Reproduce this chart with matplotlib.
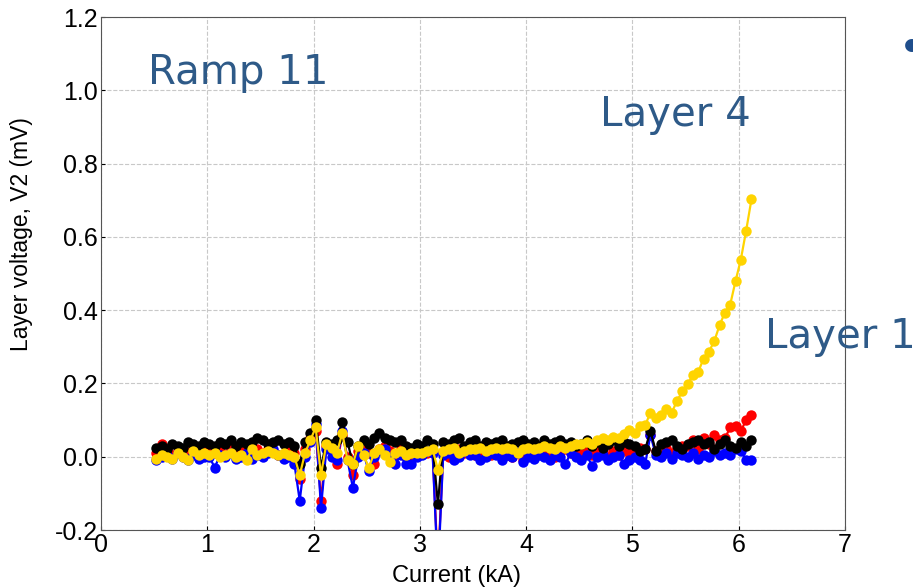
import numpy as np
import matplotlib
matplotlib.use("Agg")
import matplotlib.pyplot as plt

# current (kA), one sample every 0.05 kA
current = [0.52, 0.57, 0.62, 0.67, 0.72, 0.77, 0.82, 0.87, 0.92, 0.97,
           1.02, 1.07, 1.12, 1.17, 1.22, 1.27, 1.32, 1.37, 1.42, 1.47,
           1.52, 1.57, 1.62, 1.67, 1.72, 1.77, 1.82, 1.87, 1.92, 1.97,
           2.02, 2.07, 2.12, 2.17, 2.22, 2.27, 2.32, 2.37, 2.42, 2.47,
           2.52, 2.57, 2.62, 2.67, 2.72, 2.77, 2.82, 2.87, 2.92, 2.97,
           3.02, 3.07, 3.12, 3.17, 3.22, 3.27, 3.32, 3.37, 3.42, 3.47,
           3.52, 3.57, 3.62, 3.67, 3.72, 3.77, 3.82, 3.87, 3.92, 3.97,
           4.02, 4.07, 4.12, 4.17, 4.22, 4.27, 4.32, 4.37, 4.42, 4.47,
           4.52, 4.57, 4.62, 4.67, 4.72, 4.77, 4.82, 4.87, 4.92, 4.97,
           5.02, 5.07, 5.12, 5.17, 5.22, 5.27, 5.32, 5.37, 5.42, 5.47,
           5.52, 5.57, 5.62, 5.67, 5.72, 5.77, 5.82, 5.87, 5.92, 5.97,
           6.02, 6.07, 6.12]

v_red = [0.01, 0.035, 0.02, 0.005, 0.015, 0.02, 0.01, 0.025, 0.005, 0.015,
         0.02, 0.01, 0.015, 0.005, 0.02, 0.01, 0.025, 0.0, 0.015, 0.02,
         0.01, 0.02, 0.015, 0.005, 0.0, 0.015, 0.01, -0.06, 0.02, 0.05,
         0.07, -0.12, 0.03, 0.02, -0.02, 0.06, 0.0, -0.05, 0.015, 0.025,
         0.01, -0.02, 0.02, 0.03, 0.015, 0.005, 0.02, 0.0, -0.01, 0.015,
         0.02, 0.01, 0.015, -0.30, 0.01, 0.0, -0.005, 0.02, 0.01, 0.015,
         0.005, 0.0, 0.01, 0.005, 0.01, 0.015, 0.005, 0.0, 0.01, -0.01,
         0.005, 0.01, 0.015, 0.01, 0.005, 0.0, 0.015, 0.02, 0.01, 0.005,
         0.01, 0.015, 0.005, 0.02, 0.01, 0.0, 0.015, 0.005, 0.02, 0.01,
         0.015, 0.025, 0.02, 0.06, 0.015, 0.005, 0.025, 0.01, 0.02, 0.03,
         0.03, 0.045, 0.02, 0.05, 0.035, 0.06, 0.045, 0.05, 0.08, 0.085,
         0.07, 0.10, 0.115]

v_blue = [-0.01, 0.0, 0.005, -0.005, 0.01, 0.0, -0.01, 0.005, -0.005, 0.0,
          0.0, -0.03, 0.005, 0.0, 0.01, -0.005, 0.0, 0.01, -0.005, 0.005,
          0.0, 0.01, 0.02, 0.005, -0.005, 0.0, -0.02, -0.12, 0.0, 0.04,
          0.09, -0.14, 0.02, 0.0, -0.01, 0.07, -0.01, -0.085, 0.0, 0.01,
          -0.04, 0.0, 0.015, 0.02, 0.0, -0.02, 0.005, -0.02, -0.02, 0.0,
          0.005, 0.015, 0.01, -0.32, 0.005, 0.01, -0.01, 0.0, 0.015, 0.005,
          0.005, -0.01, 0.0, 0.01, 0.005, -0.01, 0.005, 0.0, 0.01, -0.015,
          0.0, -0.005, 0.005, 0.0, -0.01, 0.005, 0.0, -0.02, 0.01, 0.0,
          -0.01, 0.005, -0.025, 0.0, 0.005, -0.01, 0.0, 0.005, -0.02, -0.01,
          0.0, -0.01, -0.02, 0.06, 0.005, 0.0, 0.01, -0.005, 0.01, 0.005,
          0.0, 0.01, -0.005, 0.005, 0.0, 0.015, 0.005, 0.01, 0.005, 0.02,
          0.015, -0.008, -0.008]

v_black = [0.025, 0.03, 0.02, 0.035, 0.03, 0.025, 0.04, 0.035, 0.03, 0.04,
           0.035, 0.03, 0.04, 0.035, 0.045, 0.03, 0.04, 0.035, 0.04, 0.05,
           0.045, 0.035, 0.04, 0.045, 0.035, 0.04, 0.03, -0.02, 0.04, 0.065,
           0.10, -0.03, 0.04, 0.035, 0.045, 0.095, 0.04, -0.02, 0.03, 0.045,
           0.035, 0.05, 0.065, 0.05, 0.045, 0.04, 0.045, 0.03, 0.025, 0.035,
           0.03, 0.045, 0.035, -0.13, 0.04, 0.035, 0.045, 0.05, 0.03, 0.04,
           0.045, 0.03, 0.04, 0.035, 0.04, 0.045, 0.03, 0.035, 0.04, 0.045,
           0.035, 0.04, 0.03, 0.045, 0.035, 0.04, 0.045, 0.035, 0.04, 0.03,
           0.035, 0.045, 0.03, 0.04, 0.025, 0.035, 0.045, 0.03, 0.04, 0.035,
           0.03, 0.015, 0.02, 0.07, 0.015, 0.035, 0.04, 0.045, 0.03, 0.02,
           0.035, 0.04, 0.045, 0.035, 0.04, 0.02, 0.035, 0.045, 0.03, 0.025,
           0.04, 0.03, 0.045]

v_yellow = [-0.005, 0.005, 0.0, -0.005, 0.01, 0.0, -0.01, 0.015, 0.005, 0.01,
            0.005, 0.01, 0.0, 0.005, 0.01, 0.0, 0.005, -0.01, 0.02, 0.005,
            0.01, 0.015, 0.01, 0.005, 0.01, 0.005, 0.0, -0.05, 0.01, 0.045,
            0.08, -0.05, 0.035, 0.025, 0.01, 0.065, -0.01, -0.02, 0.03, 0.005,
            -0.03, 0.01, 0.02, 0.005, -0.015, 0.01, 0.015, 0.005, 0.01, 0.01,
            0.01, 0.015, 0.02, -0.035, 0.015, 0.02, 0.025, 0.01, 0.015, 0.02,
            0.02, 0.025, 0.015, 0.02, 0.025, 0.02, 0.025, 0.02, 0.01, 0.02,
            0.025, 0.02, 0.025, 0.03, 0.025, 0.02, 0.03, 0.025, 0.03, 0.035,
            0.035, 0.04, 0.035, 0.045, 0.05, 0.045, 0.054, 0.052, 0.063, 0.074,
            0.066, 0.083, 0.086, 0.12, 0.107, 0.113, 0.131, 0.12, 0.153, 0.178,
            0.199, 0.222, 0.232, 0.268, 0.287, 0.315, 0.359, 0.393, 0.415, 0.479,
            0.538, 0.617, 0.702]

series = [(v_red, "#FF0000"), (v_blue, "#0000FF"),
          (v_black, "#000000"), (v_yellow, "#FFD400")]

plt.rcParams['font.family'] = ['Liberation Sans', 'DejaVu Sans']

fig = plt.figure(figsize=(9.13, 5.87), dpi=100)
ax = fig.add_axes([0.1106, 0.0971, 0.8149, 0.8739])

for vals, col in series:
    ax.plot(current, vals, color=col, lw=1.6, marker='o', ms=7.5,
            markeredgewidth=0)

ax.set_xlim(0, 7)
ax.set_ylim(-0.2, 1.2)
ax.set_xticks(range(0, 8))
ax.set_yticks(np.arange(-0.2, 1.21, 0.2))
ax.set_yticklabels(["%.1f" % t for t in np.arange(-0.2, 1.21, 0.2)])
ax.tick_params(direction='in', length=3, labelsize=18, pad=2)
ax.grid(True, ls='--', color='#C8C8C8', lw=0.8)
for s in ax.spines.values():
    s.set_color('#555555')

ax.set_xlabel("Current (kA)", fontsize=17)
ax.xaxis.set_label_coords(0.478, -0.068)
ax.set_ylabel("Layer voltage, V2 (mV)", fontsize=16.5)
ax.yaxis.set_label_coords(-0.0914, 0.577)

txt_col = '#2E5A88'
fig.text(148 / 913, 1 - 73 / 587, "Ramp 11", fontsize=29, color=txt_col,
         family='DejaVu Sans', ha='left', va='center')
fig.text(600 / 913, 1 - 115 / 587, "Layer 4", fontsize=29, color=txt_col,
         family='DejaVu Sans', ha='left', va='center')
fig.text(765 / 913, 1 - 337 / 587, "Layer 1", fontsize=29, color=txt_col,
         family='DejaVu Sans', ha='left', va='center')
fig.text(898 / 913, 1 - 50 / 587, "\u2022", fontsize=34, color='#1F4E8C',
         family='DejaVu Sans', ha='left', va='center')

fig.savefig("out.png", dpi=100)
